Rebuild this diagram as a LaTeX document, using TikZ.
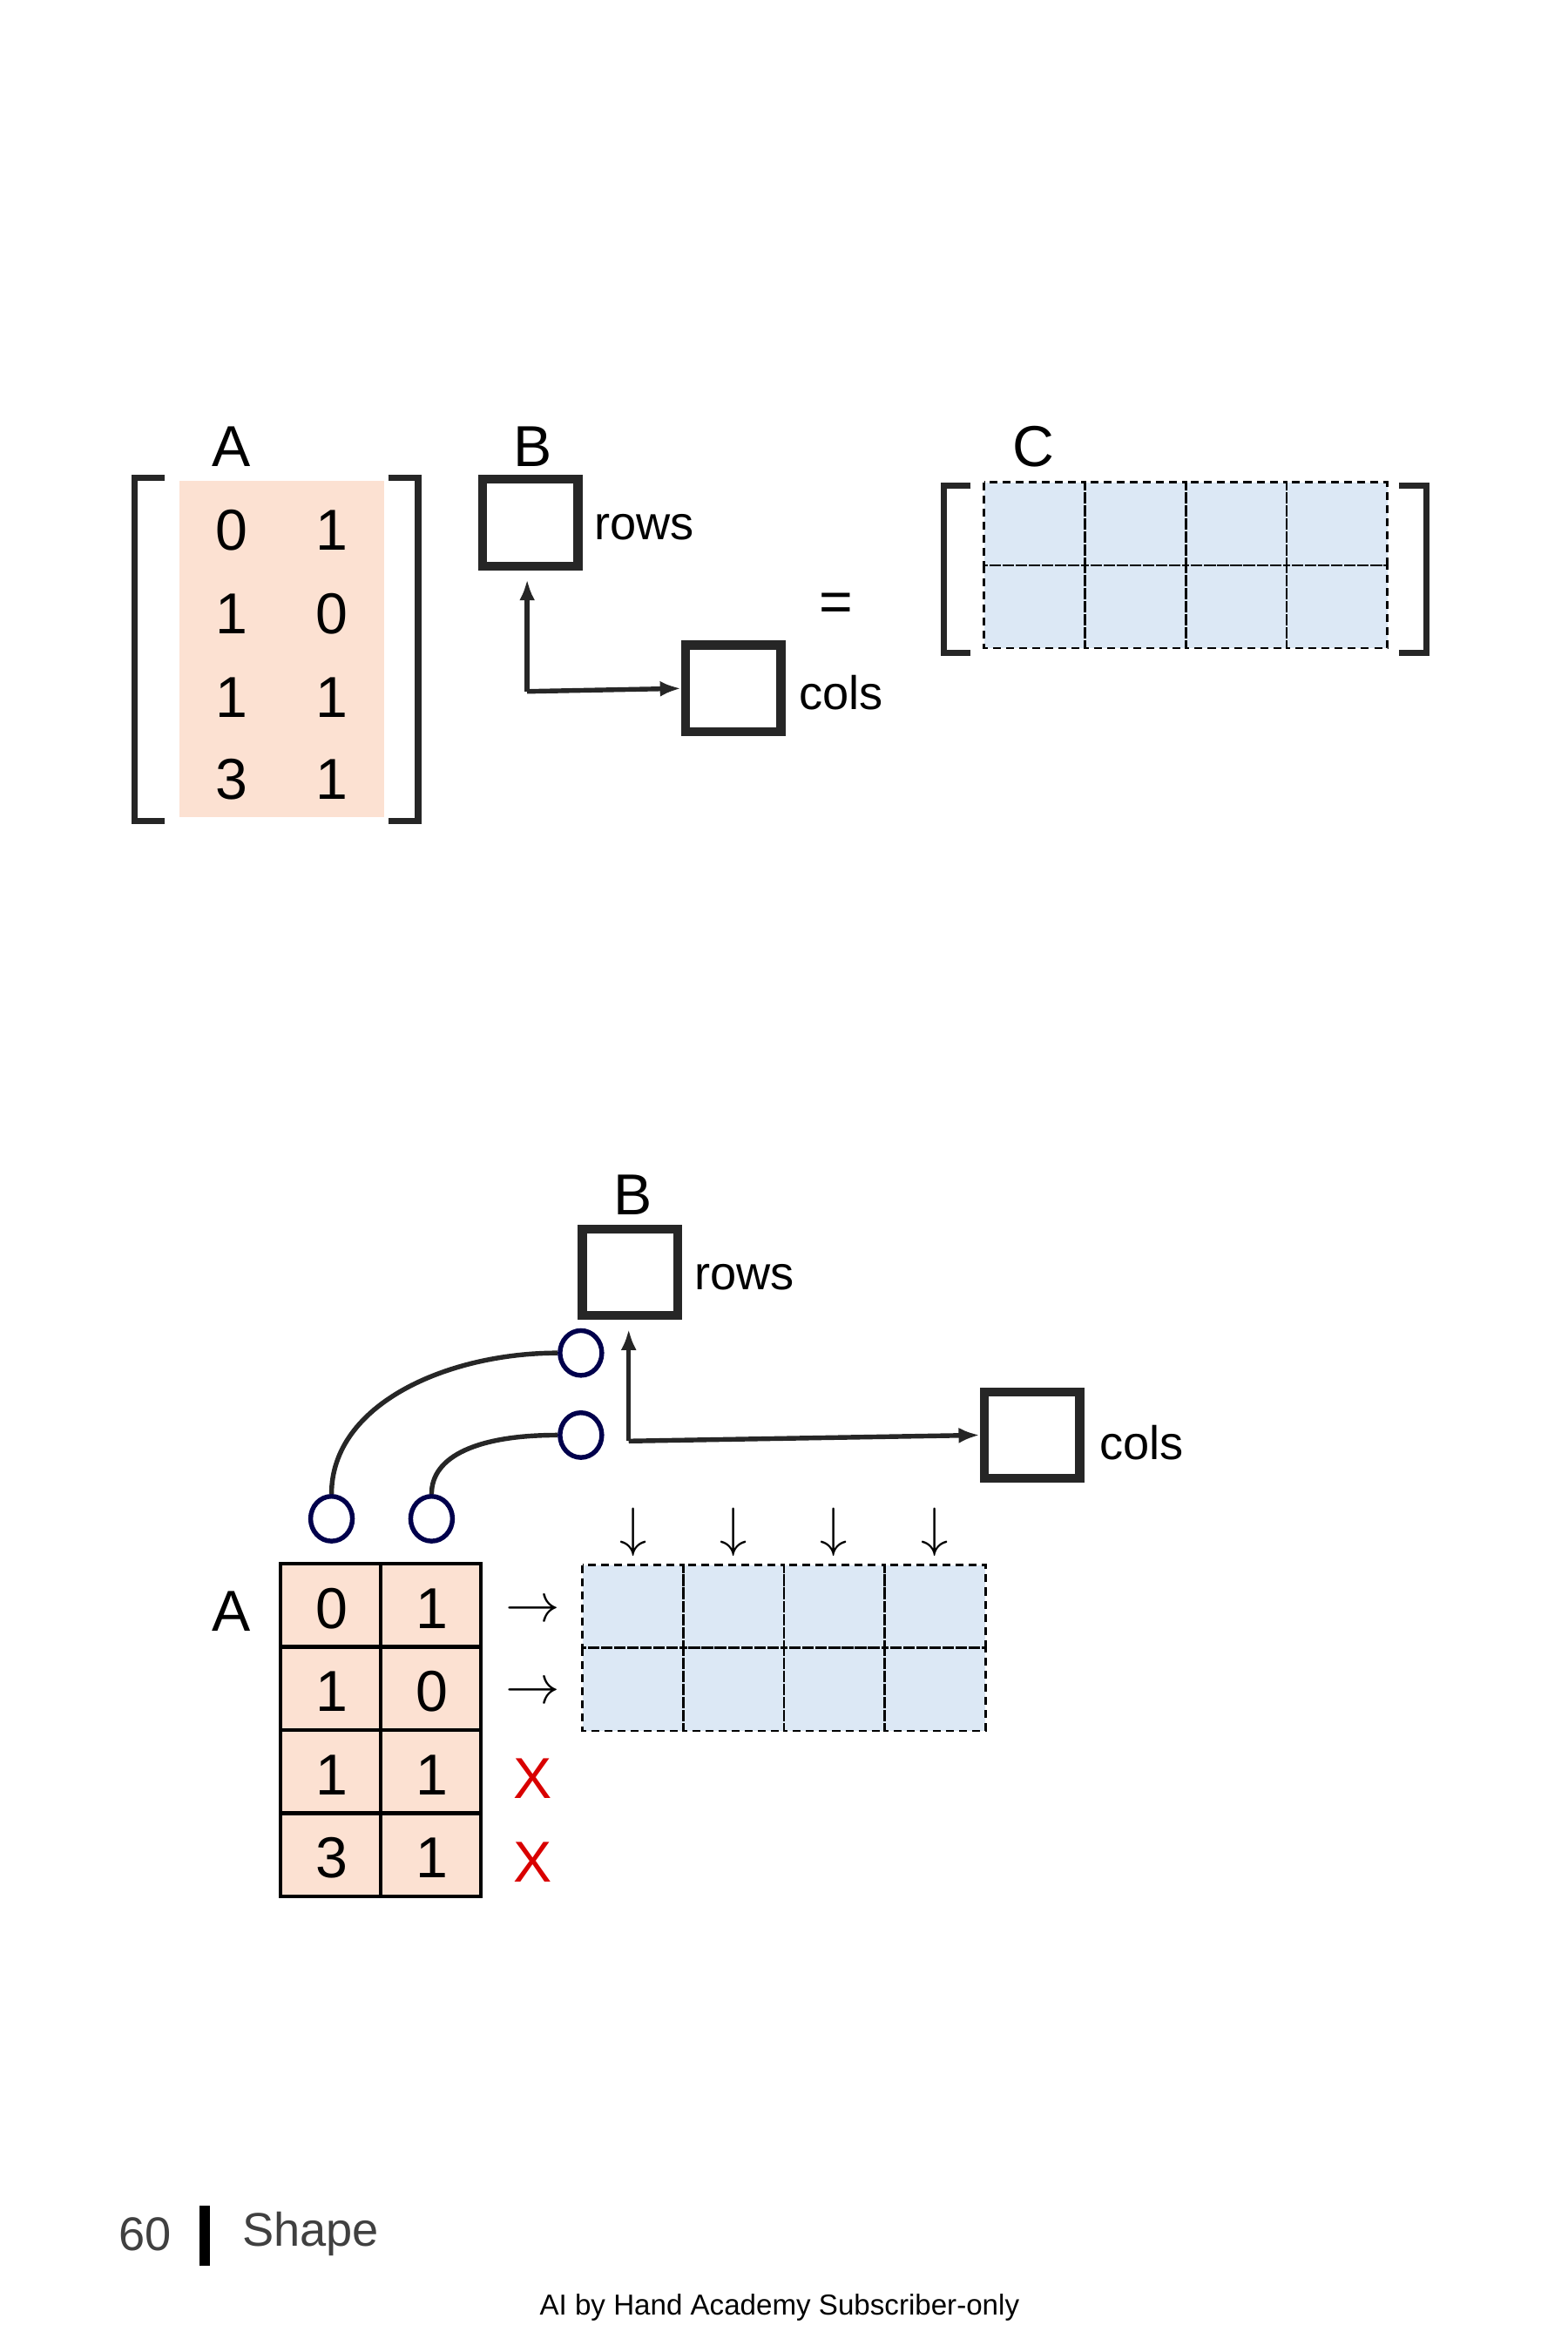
\documentclass[tikz,border=0pt]{standalone}
\usepackage{fontspec}
\usetikzlibrary{shapes.geometric,arrows.meta}
\setmainfont{Liberation Sans}
\begin{document}
\begin{tikzpicture}[x=0.02cm,y=-0.02cm,
 num/.style={font=\fontsize{22}{24}\selectfont},
 lbl/.style={font=\fontsize{18}{20}\selectfont},
 box/.style={draw=black!85,line width=3.4pt,minimum width=64*0.02cm,minimum height=58*0.02cm,inner sep=0},
 brk/.style={line width=2.4pt,black!85},
 arr/.style={line width=1.8pt,black!85,-{Latex[length=8pt,width=6pt]}},
 pin/.style={draw=blue!30!black,line width=1.8pt,ellipse,minimum width=28*0.02cm,minimum height=30*0.02cm,inner sep=0}]
\useasboundingbox (0,0) rectangle (1050,1575);
\definecolor{pch}{RGB}{252,225,210}
\definecolor{lb}{RGB}{220,232,245}
% ---- top
\fill[pch] (120,322) rectangle (257,547);
\draw[brk] (110,320)--(90,320)--(90,550)--(110,550);
\draw[brk] (260,320)--(280,320)--(280,550)--(260,550);
\node[num] (tA) at (155,299) {A};
\foreach \r/\a/\b [count=\i] in {355/0/1,411/1/0,467/1/1,522/3/1}{
 \node[num] (ta\i1) at (155,\r) {\a};
 \node[num] (ta\i2) at (222,\r) {\b};}
\node[num] (tB) at (357,299) {B};
\node[box] (tb1) at (355,350) {};
\node[lbl,anchor=west] (trows) at (392,353) {rows};
\node[box] (tb2) at (491,461) {};
\node[lbl,anchor=west] (tcols) at (529,464) {cols};
\coordinate (tc) at (353,463);
\coordinate (tu) at (353,388);
\draw[arr] (tc) -- (tu);
\draw[arr] (tc) -- (tb2.west);
\node[num] (teq) at (560,407) {=};
\node[num] (tC) at (692,299) {C};
\fill[lb] (659,323) rectangle (929,434);
\foreach \i in {0,...,3}\foreach \j in {0,1}
 \draw[line width=0.9pt,dash pattern=on 3pt off 2pt] (659+67.5*\i,323+55.5*\j) rectangle ++(67.5,55.5);
\draw[brk] (650,325)--(632,325)--(632,437)--(650,437);
\draw[brk] (937,325)--(955,325)--(955,437)--(937,437);
% ---- bottom
\node[num] (bB) at (424,800) {B};
\node[box] (bb1) at (422,852) {};
\node[lbl,anchor=west] (brows) at (459,855) {rows};
\node[box] (bb2) at (691,961) {};
\node[lbl,anchor=west] (bcols) at (730,966) {cols};
\coordinate (bc) at (421,965);
\coordinate (bu) at (421,890);
\draw[arr] (bc) -- (bu);
\draw[arr] (bc) -- (bb2.west);
\node[pin] (p1) at (389,906) {};
\node[pin] (p2) at (389,961) {};
\node[pin] (q1) at (222,1017) {};
\node[pin] (q2) at (289,1017) {};
\draw[line width=1.8pt,black!85] (q1.north) .. controls (222,940) and (300,906) .. (p1.west);
\draw[line width=1.8pt,black!85] (q2.north) .. controls (289,975) and (320,961) .. (p2.west);
\node[num] (bA) at (155,1079) {A};
\foreach \r/\a/\b [count=\i] in {0/0/1,1/1/0,2/1/1,3/3/1}{
 \fill[pch] (188,1047+55.75*\r) rectangle ++(134,55.75);
 \node[num] (ba\i1) at (222,1077+55.75*\r) {\a};
 \node[num] (ba\i2) at (289,1077+55.75*\r) {\b};}
\draw[line width=1.4pt] (188,1047) rectangle (322,1270);
\draw[line width=1.4pt] (255,1047) -- (255,1270);
\foreach \y in {1102.75,1158.5,1214.25} \draw[line width=1.4pt] (188,\y)--(322,\y);
\node[num] (r1) at (357,1079) {$\rightarrow$};
\node[num] (r2) at (357,1134) {$\rightarrow$};
\node[num,text=red!85!black] (x1) at (357,1191) {X};
\node[num,text=red!85!black] (x2) at (357,1247) {X};
\fill[lb] (390,1048) rectangle (660,1159);
\foreach \i in {0,...,3}{\foreach \j in {0,1}
 \draw[line width=0.9pt,dash pattern=on 3pt off 2pt] (390+67.5*\i,1048+55.5*\j) rectangle ++(67.5,55.5);
 \node[num] (d\i) at (424+67.3*\i,1026) {$\downarrow$};}
% footer
\node[lbl,text=black!75] (pg) at (97,1496) {60};
\draw[line width=4pt] (137,1477)--(137,1517);
\node[lbl,text=black!75,anchor=west] (sh) at (156,1496) {Shape};
\node[font=\fontsize{11}{12}\selectfont] (ft) at (522,1545) {AI by Hand Academy Subscriber-only};
\end{tikzpicture}
\end{document}
